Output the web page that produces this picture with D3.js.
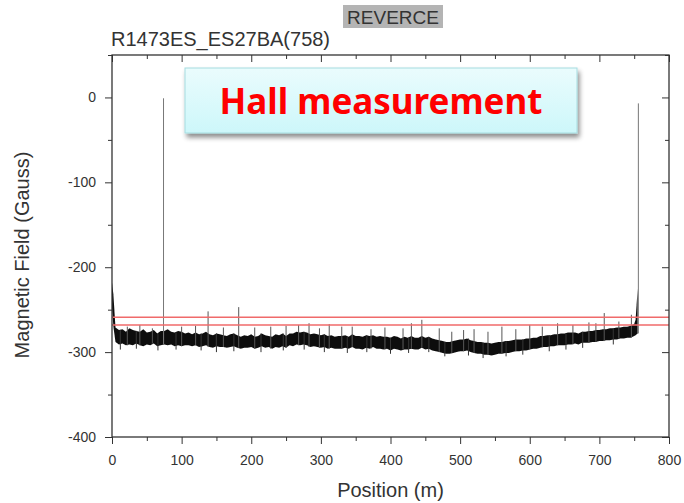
<!DOCTYPE html>
<html><head><meta charset="utf-8">
<script src="https://cdn.jsdelivr.net/npm/d3@7"></script>
<style>
body{margin:0;background:#fff;}
svg{display:block;}
</style></head>
<body>
<script>
// ---- data ----
const title = "R1473ES_ES27BA(758)";
const badge = "REVERCE";
const note = "Hall measurement";
const xLabel = "Position (m)";
const yLabel = "Magnetic Field (Gauss)";
const xTicks = [0,100,200,300,400,500,600,700,800];
const yTicks = [-400,-300,-200,-100,0];
const xMinor = [50,150,250,350,450,550,650,750];
const yMinor = [-350,-250,-150,-50,50];

const pos = [0,2,5,10,15,20,25,30,35,40,45,50,55,60,65,70,75,80,85,90,95,100,105,110,115,120,125,130,135,140,145,150,155,160,165,170,175,180,185,190,195,200,205,210,215,220,225,230,235,240,245,250,255,260,265,270,275,280,285,290,295,300,305,310,315,320,325,330,335,340,345,350,355,360,365,370,375,380,385,390,395,400,405,410,415,420,425,430,435,440,445,450,455,460,465,470,475,480,485,490,495,500,505,510,515,520,525,530,535,540,545,550,555,560,565,570,575,580,585,590,595,600,605,610,615,620,625,630,635,640,645,650,655,660,665,670,675,680,685,690,695,700,705,710,715,720,725,730,735,740,745,750,752,755];
const hi = [-218,-232,-271,-274,-273,-276,-272,-274,-275,-276,-273,-277,-276,-274,-278,-275,-275,-273,-276,-277,-275,-276,-278,-277,-279,-277,-279,-278,-276,-279,-280,-278,-279,-280,-281,-279,-278,-280,-282,-280,-281,-279,-282,-281,-278,-280,-281,-282,-279,-280,-278,-281,-278,-278,-276,-277,-276,-277,-279,-278,-279,-280,-279,-281,-280,-282,-281,-281,-280,-282,-279,-281,-281,-282,-280,-281,-280,-282,-281,-282,-282,-283,-281,-282,-284,-282,-283,-281,-283,-283,-281,-283,-282,-284,-285,-286,-287,-288,-288,-287,-286,-285,-285,-284,-286,-287,-288,-288,-289,-289,-290,-289,-288,-288,-287,-287,-286,-285,-285,-285,-284,-284,-283,-283,-281,-281,-280,-280,-279,-279,-278,-278,-277,-277,-277,-278,-276,-276,-275,-275,-274,-274,-273,-273,-272,-272,-271,-271,-270,-270,-269,-267,-262,-225];
const lo = [-248,-270,-288,-291,-290,-292,-291,-292,-290,-292,-293,-291,-292,-290,-293,-292,-291,-292,-291,-293,-292,-293,-292,-292,-293,-292,-294,-293,-292,-294,-295,-293,-294,-294,-295,-294,-293,-295,-296,-295,-295,-294,-296,-295,-293,-295,-294,-296,-294,-295,-293,-295,-292,-293,-291,-292,-291,-292,-294,-293,-294,-295,-294,-296,-295,-296,-296,-296,-295,-296,-294,-296,-296,-297,-295,-296,-294,-296,-296,-297,-296,-298,-296,-297,-298,-297,-297,-296,-297,-297,-295,-297,-296,-298,-299,-300,-301,-302,-302,-301,-300,-299,-299,-298,-300,-301,-302,-302,-303,-303,-304,-303,-302,-302,-301,-301,-300,-299,-299,-298,-298,-297,-296,-296,-295,-294,-294,-293,-293,-292,-292,-292,-291,-291,-290,-291,-289,-289,-289,-288,-288,-287,-287,-286,-286,-285,-285,-284,-284,-283,-283,-281,-280,-278];

const spikePos = [74,756,138,182,40,100,160,250,283,312,345,392,445,470,520,560,600,640,662,707,728,746,22,58,120,205,228,268,298,330,372,418,430,488,505,540,580,618,685,695];
const spikeTop = [-1,-7,-252,-247,-268,-270,-271,-269,-266,-267,-270,-271,-262,-272,-273,-270,-268,-266,-268,-254,-264,-256,-270,-272,-269,-271,-270,-268,-272,-270,-273,-272,-266,-276,-274,-276,-273,-270,-265,-266];
const dipPos = [12,35,66,92,128,150,175,214,246,276,305,338,366,400,426,455,478,512,533,566,590,628,652,676,720];
const dipBot = [-297,-296,-298,-297,-298,-300,-299,-300,-298,-297,-300,-301,-300,-302,-301,-300,-305,-304,-307,-305,-303,-299,-297,-295,-291];
const redLevels = [-259,-268];

// ---- layout ----
const W = 684, H = 503;
const L = 112, R = 669, T = 55, B = 437;
const x = d3.scaleLinear().domain([0,800]).range([L,R]);
const y = d3.scaleLinear().domain([-400,50]).range([B,T]);
const font = "'Liberation Sans', Arial, sans-serif";
const fmt = d => String(d);
const nearest = p => d3.minIndex(pos, q => Math.abs(q - p));

const svg = d3.select("body").append("svg").attr("width",W).attr("height",H);

const defs = svg.append("defs");
const g1 = defs.append("linearGradient").attr("id","boxg").attr("x1",0).attr("y1",0).attr("x2",0).attr("y2",1);
g1.append("stop").attr("offset","0%").attr("stop-color","#eafcfd");
g1.append("stop").attr("offset","100%").attr("stop-color","#cdf7fa");
const f = defs.append("filter").attr("id","sh").attr("x","-10%").attr("y","-20%").attr("width","130%").attr("height","160%");
f.append("feGaussianBlur").attr("in","SourceAlpha").attr("stdDeviation",2.5);
f.append("feOffset").attr("dx",2).attr("dy",4).attr("result","ob");
f.append("feComponentTransfer").append("feFuncA").attr("type","linear").attr("slope",0.45);
const fm = f.append("feMerge"); fm.append("feMergeNode"); fm.append("feMergeNode").attr("in","SourceGraphic");
const bl = defs.append("filter").attr("id","soft");
bl.append("feGaussianBlur").attr("stdDeviation",0.6);

// data band
const gData = svg.append("g").attr("filter","url(#soft)");
const band = d3.area().x((d,i)=>x(pos[i])).y0((d,i)=>y(lo[i])).y1((d,i)=>y(hi[i]));
gData.append("path").datum(pos).attr("d",band).attr("fill","#111");

// small downward excursions
gData.append("g").selectAll("line").data(dipPos).join("line")
  .attr("x1",d=>x(d)).attr("x2",d=>x(d))
  .attr("y1",d=>y(hi[nearest(d)]))
  .attr("y2",(d,i)=>y(dipBot[i]))
  .attr("stroke","#333").attr("stroke-width",1);

// upward spikes
gData.append("g").selectAll("line").data(spikePos).join("line")
  .attr("x1",d=>x(d)).attr("x2",d=>x(d))
  .attr("y1",d=>y(lo[nearest(d)]))
  .attr("y2",(d,i)=>y(spikeTop[i]))
  .attr("stroke",(d,i)=> spikeTop[i] > -100 ? "#777" : "#555").attr("stroke-width",1);

// red reference lines
svg.append("g").selectAll("line").data(redLevels).join("line")
  .attr("x1",L).attr("x2",R).attr("y1",d=>y(d)).attr("y2",d=>y(d))
  .attr("stroke","#f06a6a").attr("stroke-width",1.4);

// axes
function styleAxis(g){
  g.select(".domain").remove();
  g.selectAll("line").attr("stroke","#333");
  g.selectAll("text").attr("fill","#333").style("font-family",font).style("font-size","14px");
}
svg.append("g").attr("transform",`translate(0,${B})`)
  .call(d3.axisBottom(x).tickValues(xTicks).tickSize(7).tickPadding(11).tickFormat(fmt)).call(styleAxis);
svg.append("g").attr("transform",`translate(0,${B})`)
  .call(d3.axisBottom(x).tickValues(xMinor).tickSize(4).tickFormat("")).call(styleAxis);
svg.append("g").attr("transform",`translate(${L},0)`)
  .call(d3.axisLeft(y).tickValues(yTicks).tickSize(7).tickPadding(9).tickFormat(fmt)).call(styleAxis);
svg.append("g").attr("transform",`translate(${L},0)`)
  .call(d3.axisLeft(y).tickValues(yMinor).tickSize(4).tickFormat("")).call(styleAxis);
svg.append("g").attr("transform",`translate(0,${T})`)
  .call(d3.axisTop(x).tickValues(xTicks).tickSize(-7).tickFormat("")).call(styleAxis);
svg.append("g").attr("transform",`translate(0,${T})`)
  .call(d3.axisTop(x).tickValues(xMinor).tickSize(-4).tickFormat("")).call(styleAxis);
svg.append("g").attr("transform",`translate(${R},0)`)
  .call(d3.axisRight(y).tickValues(yTicks).tickSize(-7).tickFormat("")).call(styleAxis);
svg.append("g").attr("transform",`translate(${R},0)`)
  .call(d3.axisRight(y).tickValues(yMinor).tickSize(-4).tickFormat("")).call(styleAxis);

// frame
svg.append("rect").attr("x",L).attr("y",T).attr("width",R-L).attr("height",B-T)
  .attr("fill","none").attr("stroke","#333").attr("stroke-width",1.3);

// axis labels
svg.append("text").attr("x",(L+R)/2).attr("y",497).attr("text-anchor","middle")
  .style("font-family",font).style("font-size","20px").attr("fill","#333").text(xLabel);
svg.append("text").attr("transform",`translate(29,255) rotate(-90)`).attr("text-anchor","middle")
  .style("font-family",font).style("font-size","20px").attr("fill","#333").text(yLabel);

// title and badge
svg.append("text").attr("x",111).attr("y",46)
  .style("font-family",font).style("font-size","20px").attr("fill","#333").text(title);
svg.append("rect").attr("x",343).attr("y",5).attr("width",100).attr("height",23).attr("fill","#b4b4b4");
svg.append("text").attr("x",393).attr("y",24).attr("text-anchor","middle")
  .style("font-family",font).style("font-size","19px").attr("fill","#333").text(badge);

// note box
svg.append("rect").attr("x",185).attr("y",68).attr("width",392).attr("height",65)
  .attr("fill","url(#boxg)").attr("stroke","#a6dce0").attr("stroke-width",1).attr("filter","url(#sh)");
svg.append("text").attr("x",381).attr("y",114).attr("text-anchor","middle")
  .style("font-family","'Noto Sans', 'Open Sans', sans-serif").style("font-weight","bold").style("font-size","35px")
  .attr("fill","#ff0000").text(note);
</script>
</body></html>
